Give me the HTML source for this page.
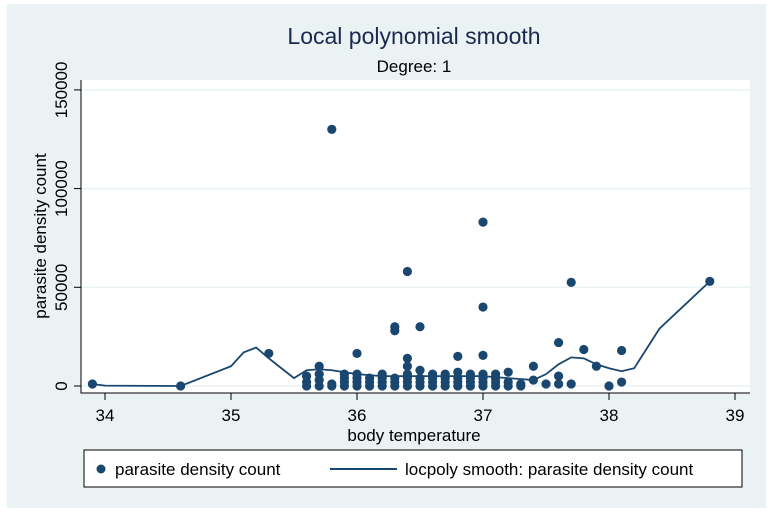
<!DOCTYPE html>
<html><head><meta charset="utf-8"><style>
body{margin:0;background:#fff;}
svg text{font-family:"Liberation Sans",Arial,sans-serif;fill:#000;}
</style></head><body>
<svg width="773" height="514" viewBox="0 0 773 514">
<rect x="7" y="4" width="759" height="504" fill="#eaf2f3"/>
<rect x="81" y="80" width="669" height="313" fill="#fff"/>
<text x="414" y="44" font-size="23" text-anchor="middle" style="fill:#1a2a4f">Local polynomial smooth</text>
<text x="414" y="72" font-size="17" text-anchor="middle">Degree: 1</text>
<g id="grid"></g><g id="axes"></g><g id="line"></g><g id="pts"></g>
<text x="414" y="441" font-size="17" text-anchor="middle">body temperature</text>
<text transform="translate(46,236) rotate(-90)" font-size="17" text-anchor="middle">parasite density count</text>
<g>
<rect x="84" y="450" width="658" height="37" fill="#fff" stroke="#000" stroke-width="1"/>
<circle cx="101" cy="469" r="4.5" fill="#1a476f"/>
<text x="115" y="475" font-size="17">parasite density count</text>
<line x1="330" y1="469" x2="397" y2="469" stroke="#1a476f" stroke-width="2"/>
<text x="405" y="475" font-size="17">locpoly smooth: parasite density count</text>
</g>
</svg>
<script>
const xTicks=[34,35,36,37,38,39];
const yTicks=[0,50000,100000,150000];
const ptX=[33.9,34.6,35.3,35.6,35.6,35.6,35.7,35.7,35.7,35.7,35.8,35.8,35.8,35.9,35.9,35.9,35.9,36.0,36.0,36.0,36.0,36.0,36.1,36.1,36.1,36.2,36.2,36.2,36.2,36.3,36.3,36.3,36.3,36.3,36.4,36.4,36.4,36.4,36.4,36.4,36.4,36.5,36.5,36.5,36.5,36.5,36.6,36.6,36.6,36.6,36.7,36.7,36.7,36.7,36.8,36.8,36.8,36.8,36.8,36.9,36.9,36.9,36.9,37.0,37.0,37.0,37.0,37.0,37.0,37.0,37.1,37.1,37.1,37.1,37.2,37.2,37.2,37.3,37.3,37.4,37.4,37.5,37.6,37.6,37.6,37.7,37.7,37.8,37.9,38.0,38.1,38.1,38.8];
const ptY=[1000,0,16500,0,2000,5000,0,3000,6000,10000,0,1000,130000,0,2000,4000,6000,0,2000,4000,6000,16500,0,2000,4000,0,2000,4000,6000,0,2000,4000,28000,30000,0,2000,4000,6000,10000,14000,58000,0,2000,4000,8000,30000,0,2000,4000,6000,0,2000,4000,6000,0,2000,4000,7000,15000,0,2000,4000,6000,0,2000,4000,6000,15500,40000,83000,0,2000,4000,6000,0,2000,7000,0,1000,3000,10000,1000,1000,5000,22000,1000,52500,18500,10000,0,2000,18000,53000];
const lineX=[33.9,34.0,34.6,35.0,35.1,35.2,35.3,35.4,35.5,35.6,35.7,35.8,35.9,36.0,36.2,36.5,37.0,37.2,37.4,37.5,37.6,37.7,37.8,37.9,38.0,38.1,38.2,38.3,38.4,38.6,38.8];
const lineY=[1000,200,0,10000,17000,19500,14000,9000,4000,8000,8500,8000,7000,6000,5000,5000,5000,4000,3000,6000,11000,14500,14000,11000,9000,7500,9000,19000,29000,41000,53000];
const NS='http://www.w3.org/2000/svg';
const sx=v=>105+(v-34)*126;
const sy=v=>386-v/50000*98.7;
function mk(t,a,p){const e=document.createElementNS(NS,t);for(const k in a)e.setAttribute(k,a[k]);document.getElementById(p).appendChild(e);return e;}
yTicks.forEach(v=>{
 const g=mk('line',{x1:81,x2:750,y1:sy(v),y2:sy(v),stroke:'#eaf2f3','stroke-width':1.5},'grid');
 
 
 const t=mk('line',{x1:74,x2:81,y1:sy(v),y2:sy(v),stroke:'#000'},'axes');
 
 
 const l=mk('text',{transform:`translate(67,${sy(v)}) rotate(-90)`,'font-size':17,'text-anchor':'middle'},'axes');
 l.textContent=v;
 
 
});
xTicks.forEach(v=>{
 const t=mk('line',{x1:sx(v),x2:sx(v),y1:393,y2:400,stroke:'#000'},'axes');
 
 
 const l=mk('text',{x:sx(v),y:421,'font-size':17,'text-anchor':'middle'},'axes');
 l.textContent=v;
 
 
});
const ax=mk('path',{d:'M81,80 V393 H750',fill:'none',stroke:'#000'},'axes');


const ln=mk('polyline',{points:lineX.map((x,i)=>sx(x)+','+sy(lineY[i])).join(' '),fill:'none',stroke:'#1a476f','stroke-width':1.8},'line');


ptX.forEach((x,i)=>{
 const c=mk('circle',{cx:sx(x),cy:sy(ptY[i]),r:4.6,fill:'#1a476f'},'pts');
 
 
});
</script>
</body></html>
